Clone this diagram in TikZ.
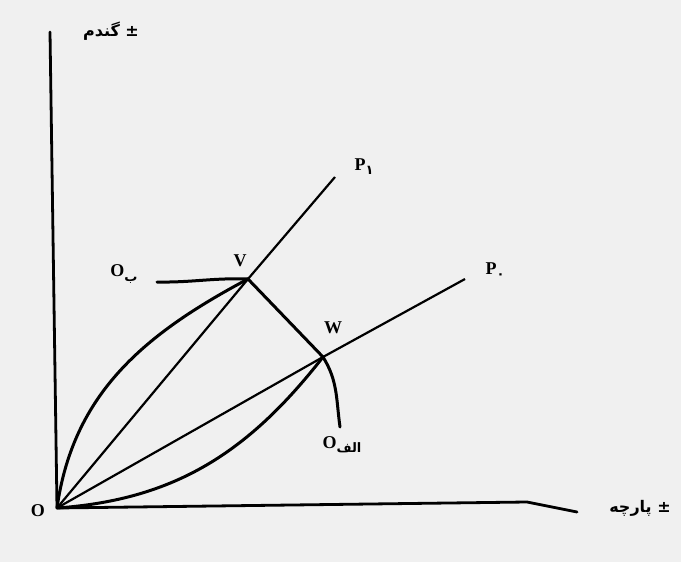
\documentclass[tikz,border=0pt]{standalone}
\usepackage{fontspec}
\setmainfont{Liberation Serif}
\newfontfamily\arabicfont[Script=Arabic]{DejaVu Sans}
\TeXXeTstate=1
\usetikzlibrary{positioning}

\newcommand{\farsisub}[1]{\raisebox{-0.5ex}{\arabicfont\bfseries\fontsize{13}{14}\selectfont\beginR#1\endR}}

\begin{document}
\begin{tikzpicture}[
  x=1pt, y=-1pt,
  every node/.style={font=\fontsize{18}{20}\selectfont\bfseries, inner sep=1pt},
  fa/.style={font=\fontsize{16}{18}\selectfont\arabicfont\bfseries},
  axis/.style={line width=2.8pt, line join=round, line cap=round},
  ray/.style={line width=2.2pt},
  frontier/.style={line width=3pt, line cap=round},
  node distance=4pt,
]

%% Background
\fill[black!6] (0,0) rectangle (681,562);
\useasboundingbox (0,0) rectangle (681,562);

%% Points
\coordinate (O)    at (57,508);
\coordinate (yTop) at (50,32);
\coordinate (xEnd) at (527,502);
\coordinate (xCut) at (577,512);
\coordinate (V)    at (248,279);
\coordinate (W)    at (323,357);
\coordinate (P1end) at (335,177);
\coordinate (P0end) at (465,279);
\coordinate (Obend) at (157,282);
\coordinate (Oaend) at (340,427);

%% Axes
\draw[axis] (yTop) -- (O) -- (xEnd) -- (xCut);

%% Price rays
\draw[ray] (O) -- (V) -- (P1end);
\draw[ray] (O) -- (W) -- (P0end);

%% Frontiers
\draw[frontier] (O) to[out=82, in=208] (V);
\draw[frontier] (Obend) to[out=-1, in=178] (V);
\draw[frontier] (O) to[out=4, in=232] (W);
\draw[frontier] (W) to[out=-58, in=98] (Oaend);
\draw[frontier] (V) -- (W);

%% Labels
\node (lO)  at (38,511)  {O};
\node (lV)  at (240,261) {V};
\node (lW)  at (333,328) {W};
\node (lP1) at (364,167) {P\farsisub{۱}};
\node (lP0) at (495,271) {P\farsisub{۰}};
\node (lOb) at (124,274) {O\farsisub{ب}};
\node (lOa) at (342,445) {O\farsisub{الف}};

\node[fa] (wheat) at (111,31)  {\beginR ± گندم\endR};
\node[fa] (cloth) at (640,508) {\beginR ± پارچه\endR};

\end{tikzpicture}
\end{document}
